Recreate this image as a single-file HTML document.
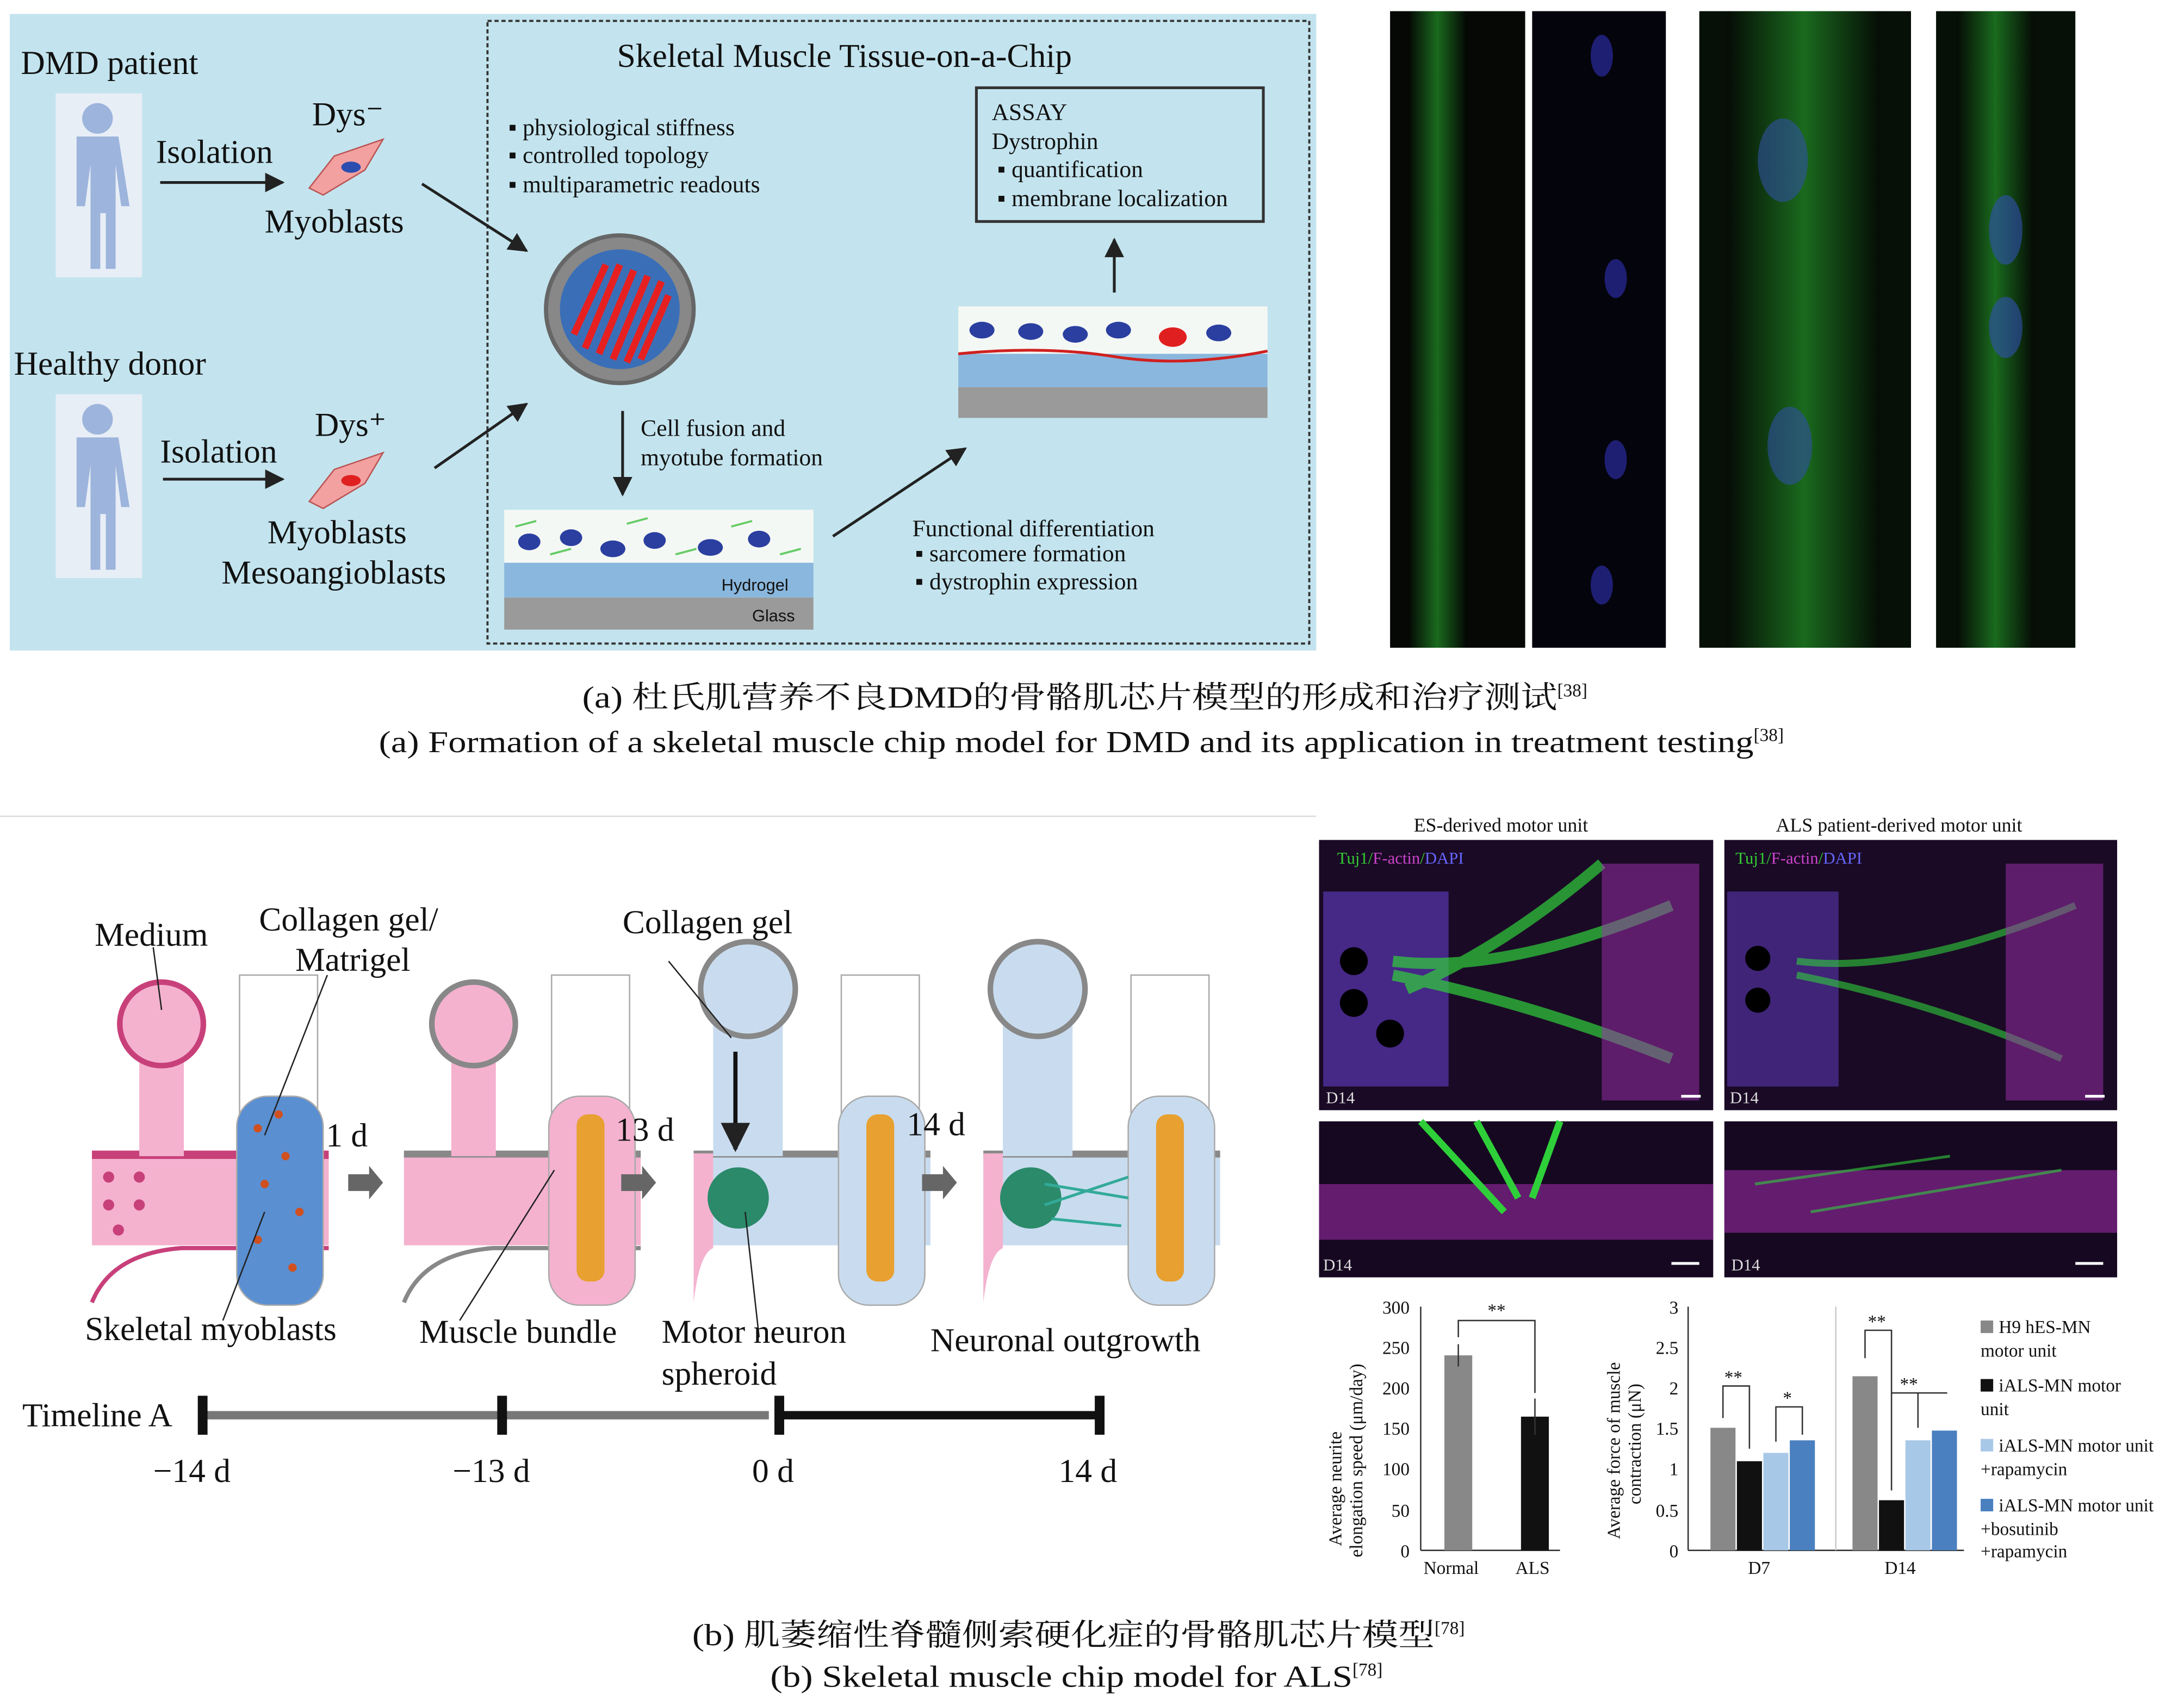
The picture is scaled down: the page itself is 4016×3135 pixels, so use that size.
<!DOCTYPE html>
<html><head><meta charset="utf-8"><style>
html,body{margin:0;padding:0;background:#fff;}
svg{display:block;}
text{font-family:"Liberation Serif","Noto Serif CJK SC",serif;fill:#111;}
.s{font-family:"Liberation Sans",sans-serif;}
</style></head><body>
<svg width="4016" height="3135" viewBox="0 0 1568 1224" xmlns="http://www.w3.org/2000/svg">
<defs>
<marker id="ah" viewBox="0 0 10 10" refX="9" refY="5" markerWidth="7" markerHeight="7" orient="auto"><path d="M0,0L10,5L0,10z" fill="#222"/></marker>
<linearGradient id="grn" x1="0" x2="1"><stop offset="0" stop-color="#050c05"/><stop offset=".5" stop-color="#1a6a1e"/><stop offset="1" stop-color="#050c05"/></linearGradient>
</defs>
<rect width="1568" height="1224" fill="#fff"/>
<!-- Panel a -->
<rect x="7" y="10" width="938" height="457" fill="#c3e4ee"/>
<rect x="350" y="15" width="590" height="447" fill="none" stroke="#333" stroke-width="1.5" stroke-dasharray="3,2"/>
<text x="15" y="53" font-size="24">DMD patient</text>
<text x="10" y="269" font-size="24">Healthy donor</text>
<text x="443" y="48" font-size="24">Skeletal Muscle Tissue-on-a-Chip</text>
<g fill="#9db4dc">
<rect x="40" y="67" width="62" height="132" fill="#e8eef6"/>
<circle cx="70" cy="85" r="11"/><path d="M55,98h30l8,50h-6l-4,-30v75h-7v-40h-4v40h-7v-75l-4,30h-6z"/>
<rect x="40" y="283" width="62" height="132" fill="#e8eef6"/>
<circle cx="70" cy="301" r="11"/><path d="M55,314h30l8,50h-6l-4,-30v75h-7v-40h-4v40h-7v-75l-4,30h-6z"/>
</g>
<text x="112" y="117" font-size="24">Isolation</text>
<text x="115" y="332" font-size="24">Isolation</text>
<line x1="115" y1="131" x2="203" y2="131" stroke="#222" stroke-width="2" marker-end="url(#ah)"/>
<line x1="117" y1="344" x2="203" y2="344" stroke="#222" stroke-width="2" marker-end="url(#ah)"/>
<text x="224" y="90" font-size="24">Dys⁻</text>
<text x="226" y="313" font-size="24">Dys⁺</text>
<path d="M222,135 L240,112 L275,100 L262,122 L232,140z" fill="#f2a0a0" stroke="#b55" />
<ellipse cx="252" cy="120" rx="7" ry="4" fill="#2b4db0"/>
<path d="M222,360 L240,337 L275,325 L262,347 L232,365z" fill="#f2a0a0" stroke="#b55"/>
<ellipse cx="252" cy="345" rx="7" ry="4" fill="#e02020"/>
<text x="190" y="167" font-size="24">Myoblasts</text>
<text x="192" y="390" font-size="24">Myoblasts</text>
<text x="159" y="419" font-size="24">Mesoangioblasts</text>
<line x1="303" y1="132" x2="378" y2="180" stroke="#222" stroke-width="2" marker-end="url(#ah)"/>
<line x1="312" y1="336" x2="378" y2="290" stroke="#222" stroke-width="2" marker-end="url(#ah)"/>
<g font-size="17"><text x="365" y="97">▪ physiological stiffness</text><text x="365" y="117">▪ controlled topology</text><text x="365" y="138">▪ multiparametric readouts</text></g>
<circle cx="445" cy="222" r="53" fill="#888" stroke="#666" stroke-width="3"/>
<circle cx="445" cy="222" r="43" fill="#3a6fb8"/>
<g stroke="#e62020" stroke-width="5">
<line x1="420" y1="250" x2="445" y2="190"/><line x1="430" y1="254" x2="455" y2="194"/><line x1="440" y1="258" x2="465" y2="198"/><line x1="450" y1="260" x2="475" y2="202"/><line x1="460" y1="258" x2="480" y2="212"/><line x1="412" y1="240" x2="435" y2="190"/>
</g>
<line x1="447" y1="295" x2="447" y2="355" stroke="#222" stroke-width="2" marker-end="url(#ah)"/>
<text x="460" y="313" font-size="17">Cell fusion and</text><text x="460" y="334" font-size="17">myotube formation</text>
<rect x="362" y="366" width="222" height="38" fill="#f4f8f4"/>
<rect x="362" y="404" width="222" height="25" fill="#8ab7dd"/>
<rect x="362" y="429" width="222" height="23" fill="#9a9a9a"/>
<g stroke="#6c6" stroke-width="1.5"><line x1="370" y1="378" x2="385" y2="374"/><line x1="395" y1="398" x2="410" y2="394"/><line x1="450" y1="376" x2="465" y2="372"/><line x1="485" y1="398" x2="500" y2="394"/><line x1="525" y1="378" x2="540" y2="374"/><line x1="560" y1="398" x2="575" y2="394"/></g>
<g fill="#2b3fa0"><ellipse cx="380" cy="389" rx="8" ry="6"/><ellipse cx="410" cy="386" rx="8" ry="6"/><ellipse cx="440" cy="394" rx="9" ry="6"/><ellipse cx="470" cy="388" rx="8" ry="6"/><ellipse cx="510" cy="393" rx="9" ry="6"/><ellipse cx="545" cy="387" rx="8" ry="6"/></g>
<text x="518" y="424" font-size="12" class="s" fill="#333">Hydrogel</text><text x="540" y="446" font-size="12" class="s" fill="#333">Glass</text>
<line x1="598" y1="385" x2="693" y2="322" stroke="#222" stroke-width="2" marker-end="url(#ah)"/>
<rect x="688" y="220" width="222" height="34" fill="#f4f8f4"/>
<rect x="688" y="254" width="222" height="24" fill="#8ab7dd"/>
<rect x="688" y="278" width="222" height="22" fill="#9a9a9a"/>
<path d="M688,254 Q750,248 800,256 T910,252" stroke="#d02020" stroke-width="2" fill="none"/>
<g fill="#2b3fa0"><ellipse cx="705" cy="237" rx="9" ry="6"/><ellipse cx="740" cy="238" rx="9" ry="6"/><ellipse cx="772" cy="240" rx="9" ry="6"/><ellipse cx="803" cy="237" rx="9" ry="6"/><ellipse cx="875" cy="239" rx="9" ry="6"/></g>
<ellipse cx="842" cy="242" rx="10" ry="7" fill="#e02020"/>
<line x1="800" y1="210" x2="800" y2="172" stroke="#222" stroke-width="2" marker-end="url(#ah)"/>
<rect x="701" y="63" width="206" height="96" fill="none" stroke="#333" stroke-width="2"/>
<g font-size="17"><text x="712" y="86">ASSAY</text><text x="712" y="107">Dystrophin</text><text x="716" y="127">▪ quantification</text><text x="716" y="148">▪ membrane localization</text></g>
<g font-size="17"><text x="655" y="385">Functional differentiation</text><text x="657" y="403">▪ sarcomere formation</text><text x="657" y="423">▪ dystrophin expression</text></g>
<!-- micrographs top -->
<rect x="998" y="8" width="97" height="457" fill="#050805"/>
<rect x="1012" y="8" width="40" height="457" fill="url(#grn)"/>
<rect x="1100" y="8" width="96" height="457" fill="#04040c"/>
<g fill="#2a2aa0" opacity=".7"><ellipse cx="1150" cy="40" rx="8" ry="15"/><ellipse cx="1160" cy="200" rx="8" ry="14"/><ellipse cx="1160" cy="330" rx="8" ry="14"/><ellipse cx="1150" cy="420" rx="8" ry="14"/></g>
<rect x="1220" y="8" width="152" height="457" fill="#061006"/>
<rect x="1240" y="8" width="110" height="457" fill="url(#grn)"/>
<g fill="#3050a0" opacity=".6"><ellipse cx="1280" cy="115" rx="18" ry="30"/><ellipse cx="1285" cy="320" rx="16" ry="28"/></g>
<rect x="1390" y="8" width="100" height="457" fill="#061006"/>
<rect x="1405" y="8" width="55" height="457" fill="url(#grn)"/>
<g fill="#3050b0" opacity=".6"><ellipse cx="1440" cy="165" rx="12" ry="25"/><ellipse cx="1440" cy="235" rx="12" ry="22"/></g>
<text x="418" y="508" font-size="22" textLength="700" lengthAdjust="spacingAndGlyphs">(a) 杜氏肌营养不良DMD的骨骼肌芯片模型的形成和治疗测试</text><text x="1118" y="500" font-size="13">[38]</text>
<text x="272" y="540" font-size="22" textLength="987" lengthAdjust="spacingAndGlyphs">(a) Formation of a skeletal muscle chip model for DMD and its application in treatment testing</text><text x="1259" y="532" font-size="13">[38]</text>
<!-- Panel b -->
<line x1="0" y1="586" x2="945" y2="586" stroke="#ddd" stroke-width="1"/>
<g id="u">
<rect x="66" y="828" width="170" height="66" fill="#f4b2cf"/>
<rect x="66" y="826" width="170" height="6" fill="#c8407a"/>
<rect x="100" y="735" width="32" height="95" fill="#f4b2cf"/>
<circle cx="116" cy="735" r="30" fill="#f4b2cf" stroke="#c8407a" stroke-width="4"/>
<path d="M66,935 Q80,900 130,896 L236,896" stroke="#c8407a" stroke-width="3" fill="none"/>
<rect x="172" y="700" width="56" height="100" fill="#fff" stroke="#aaa"/>
<rect x="170" y="787" width="62" height="150" rx="22" fill="#5a8fd2" stroke="#aaa"/>
<g fill="#c8407a"><circle cx="78" cy="845" r="4"/><circle cx="100" cy="845" r="4"/><circle cx="78" cy="865" r="4"/><circle cx="100" cy="865" r="4"/><circle cx="85" cy="883" r="4"/></g>
</g>
<g fill="#d05020"><circle cx="185" cy="810" r="3"/><circle cx="205" cy="830" r="3"/><circle cx="190" cy="850" r="3"/><circle cx="215" cy="870" r="3"/><circle cx="185" cy="890" r="3"/><circle cx="210" cy="910" r="3"/><circle cx="200" cy="800" r="3"/></g>
<line x1="116" y1="725" x2="110" y2="680" stroke="#222"/><line x1="190" y1="815" x2="235" y2="700" stroke="#222"/><line x1="160" y1="948" x2="190" y2="870" stroke="#222"/>
<g transform="translate(224,0)">
<rect x="66" y="828" width="170" height="66" fill="#f4b2cf"/><rect x="66" y="826" width="170" height="5" fill="#888"/>
<rect x="100" y="735" width="32" height="95" fill="#f4b2cf"/><circle cx="116" cy="735" r="30" fill="#f4b2cf" stroke="#888" stroke-width="4"/>
<path d="M66,935 Q80,900 130,896 L236,896" stroke="#888" stroke-width="3" fill="none"/>
<rect x="172" y="700" width="56" height="100" fill="#fff" stroke="#aaa"/>
<rect x="170" y="787" width="62" height="150" rx="22" fill="#f4b2cf" stroke="#aaa"/>
<rect x="190" y="800" width="20" height="120" rx="8" fill="#e8a030"/>
</g>
<line x1="330" y1="948" x2="398" y2="840" stroke="#222"/>
<g transform="translate(432,0)">
<rect x="66" y="828" width="170" height="66" fill="#c9dcef"/><rect x="66" y="826" width="170" height="5" fill="#888"/>
<path d="M66,935 Q70,900 80,896 L80,828 L66,828z" fill="#f4b2cf"/>
<rect x="80" y="715" width="50" height="115" fill="#c9dcef"/><circle cx="105" cy="710" r="34" fill="#c9dcef" stroke="#888" stroke-width="4"/>
<rect x="172" y="700" width="56" height="100" fill="#fff" stroke="#aaa"/>
<rect x="170" y="787" width="62" height="150" rx="22" fill="#c9dcef" stroke="#aaa"/>
<rect x="190" y="800" width="20" height="120" rx="8" fill="#e8a030"/>
<circle cx="98" cy="860" r="22" fill="#2a8a6a"/>
</g>
<line x1="528" y1="755" x2="528" y2="825" stroke="#111" stroke-width="3" marker-end="url(#ah)"/>
<line x1="480" y1="690" x2="525" y2="745" stroke="#222"/><line x1="545" y1="960" x2="535" y2="870" stroke="#222"/>
<g transform="translate(640,0)">
<rect x="66" y="828" width="170" height="66" fill="#c9dcef"/><rect x="66" y="826" width="170" height="5" fill="#888"/>
<path d="M66,935 Q70,900 80,896 L80,828 L66,828z" fill="#f4b2cf"/>
<rect x="80" y="715" width="50" height="115" fill="#c9dcef"/><circle cx="105" cy="710" r="34" fill="#c9dcef" stroke="#888" stroke-width="4"/>
<rect x="172" y="700" width="56" height="100" fill="#fff" stroke="#aaa"/>
<rect x="170" y="787" width="62" height="150" rx="22" fill="#c9dcef" stroke="#aaa"/>
<rect x="190" y="800" width="20" height="120" rx="8" fill="#e8a030"/>
<circle cx="100" cy="860" r="22" fill="#2a8a6a"/>
<path d="M110,850 L170,860 M110,865 L170,845 M115,875 L165,880" stroke="#3a9" stroke-width="2"/>
</g>
<g fill="#666"><path d="M250,843h15v-6l10,12l-10,12v-6h-15z"/><path d="M446,843h15v-6l10,12l-10,12v-6h-15z"/><path d="M662,843h15v-6l10,12l-10,12v-6h-15z"/></g>
<g font-size="24">
<text x="68" y="679">Medium</text><text x="186" y="668">Collagen gel/</text><text x="212" y="697">Matrigel</text>
<text x="447" y="670">Collagen gel</text>
<text x="234" y="823">1 d</text><text x="442" y="819">13 d</text><text x="651" y="815">14 d</text>
<text x="61" y="962">Skeletal myoblasts</text><text x="301" y="964">Muscle bundle</text><text x="475" y="964">Motor neuron</text><text x="475" y="994">spheroid</text><text x="668" y="970">Neuronal outgrowth</text>
<text x="16" y="1024">Timeline A</text>
<text x="110" y="1064">−14 d</text><text x="325" y="1064">−13 d</text><text x="540" y="1064">0 d</text><text x="760" y="1064">14 d</text>
</g>
<line x1="146" y1="1016" x2="552" y2="1016" stroke="#777" stroke-width="6"/>
<line x1="560" y1="1016" x2="788" y2="1016" stroke="#111" stroke-width="6"/>
<g fill="#111"><rect x="142" y="1002" width="7" height="28"/><rect x="357" y="1002" width="7" height="28"/><rect x="556" y="1002" width="7" height="28"/><rect x="786" y="1002" width="7" height="28"/></g>
<!-- fluorescence -->
<g font-size="14"><text x="1015" y="597">ES-derived motor unit</text><text x="1275" y="597">ALS patient-derived motor unit</text></g>
<rect x="947" y="603" width="283" height="194" fill="#1a0a25"/>
<rect x="1238" y="603" width="282" height="194" fill="#1a0a25"/>
<rect x="950" y="640" width="90" height="140" fill="#5a35b0" opacity=".7"/>
<rect x="1240" y="640" width="80" height="140" fill="#5a35b0" opacity=".6"/>
<path d="M1000,690 Q1080,700 1200,650 M1000,700 Q1100,720 1200,760 M1010,710 Q1080,680 1150,620" stroke="#2fcf3a" stroke-width="8" fill="none" opacity=".7"/>
<path d="M1290,690 Q1370,700 1490,650 M1290,700 Q1390,720 1480,760" stroke="#2fcf3a" stroke-width="5" fill="none" opacity=".6"/>
<rect x="1150" y="620" width="70" height="170" fill="#a030b0" opacity=".5"/>
<rect x="1440" y="620" width="70" height="170" fill="#a030b0" opacity=".5"/>
<g fill="#000"><circle cx="972" cy="690" r="10"/><circle cx="972" cy="720" r="10"/><circle cx="998" cy="742" r="10"/><circle cx="1262" cy="688" r="9"/><circle cx="1262" cy="718" r="9"/></g>
<rect x="947" y="805" width="283" height="112" fill="#150820"/>
<rect x="1238" y="805" width="282" height="112" fill="#150820"/>
<rect x="947" y="850" width="283" height="40" fill="#9a2aa5" opacity=".6"/>
<rect x="1238" y="840" width="282" height="45" fill="#9a2aa5" opacity=".6"/>
<path d="M1020,805 L1080,870 M1060,805 L1090,860 M1120,805 L1100,860" stroke="#2fcf3a" stroke-width="5"/>
<path d="M1260,850 L1400,830 M1300,870 L1480,840" stroke="#2fcf3a" stroke-width="2" opacity=".6"/>
<g font-size="12" class="s">
<text x="952" y="792" style="fill:#ddd">D14</text><text x="1242" y="792" style="fill:#ddd">D14</text><text x="950" y="912" style="fill:#ddd">D14</text><text x="1243" y="912" style="fill:#ddd">D14</text>
<text x="960" y="620" style="fill:#3c3">Tuj1/<tspan style="fill:#c4c">F-actin</tspan>/<tspan style="fill:#66f">DAPI</tspan></text>
<text x="1246" y="620" style="fill:#3c3">Tuj1/<tspan style="fill:#c4c">F-actin</tspan>/<tspan style="fill:#66f">DAPI</tspan></text></g>
<g fill="#fff"><rect x="1207" y="786" width="14" height="2"/><rect x="1497" y="786" width="14" height="2"/><rect x="1200" y="906" width="20" height="2"/><rect x="1490" y="906" width="20" height="2"/></g>
<!-- chart1 -->
<g font-size="13">
<line x1="1020" y1="938" x2="1020" y2="1113" stroke="#333"/><line x1="1020" y1="1113" x2="1120" y2="1113" stroke="#333"/>
<text x="1012" y="943" text-anchor="end">300</text><text x="1012" y="972" text-anchor="end">250</text><text x="1012" y="1001" text-anchor="end">200</text><text x="1012" y="1030" text-anchor="end">150</text><text x="1012" y="1059" text-anchor="end">100</text><text x="1012" y="1089" text-anchor="end">50</text><text x="1012" y="1118" text-anchor="end">0</text>
<rect x="1037" y="973" width="20" height="140" fill="#888"/><rect x="1092" y="1017" width="20" height="96" fill="#111"/>
<line x1="1047" y1="965" x2="1047" y2="981" stroke="#333"/><line x1="1102" y1="1004" x2="1102" y2="1030" stroke="#333"/>
<path d="M1047,960V948H1102V1000" fill="none" stroke="#333"/><text x="1068" y="945">**</text>
<text x="1022" y="1130">Normal</text><text x="1088" y="1130">ALS</text>
<text transform="translate(963,1110) rotate(-90)">Average neurite</text><text transform="translate(978,1118) rotate(-90)">elongation speed (μm/day)</text>
<line x1="1212" y1="938" x2="1212" y2="1113" stroke="#333"/><line x1="1212" y1="1113" x2="1410" y2="1113" stroke="#333"/>
<line x1="1318" y1="938" x2="1318" y2="1113" stroke="#ccc"/>
<text x="1205" y="943" text-anchor="end">3</text><text x="1205" y="972" text-anchor="end">2.5</text><text x="1205" y="1001" text-anchor="end">2</text><text x="1205" y="1030" text-anchor="end">1.5</text><text x="1205" y="1059" text-anchor="end">1</text><text x="1205" y="1089" text-anchor="end">0.5</text><text x="1205" y="1118" text-anchor="end">0</text>
<rect x="1228" y="1025" width="18" height="88" fill="#888"/><rect x="1247" y="1049" width="18" height="64" fill="#111"/><rect x="1266" y="1043" width="18" height="70" fill="#a8c8e8"/><rect x="1285" y="1034" width="18" height="79" fill="#4a80c0"/>
<rect x="1330" y="988" width="18" height="125" fill="#888"/><rect x="1349" y="1077" width="18" height="36" fill="#111"/><rect x="1368" y="1034" width="18" height="79" fill="#a8c8e8"/><rect x="1387" y="1027" width="18" height="86" fill="#4a80c0"/>
<path d="M1237,1018V995H1256V1040M1275,1035V1010H1294V1030M1339,975V955H1358V1070M1358,1070V1000H1377V1025M1377,1000H1398" fill="none" stroke="#333"/>
<text x="1238" y="993">**</text><text x="1280" y="1008">*</text><text x="1341" y="953">**</text><text x="1364" y="998">**</text>
<text x="1255" y="1130">D7</text><text x="1353" y="1130">D14</text>
<text transform="translate(1163,1105) rotate(-90)">Average force of muscle</text><text transform="translate(1178,1080) rotate(-90)">contraction (μN)</text>
<rect x="1422" y="948" width="9" height="9" fill="#888"/><text x="1435" y="957">H9 hES-MN</text><text x="1422" y="974">motor unit</text>
<rect x="1422" y="990" width="9" height="9" fill="#111"/><text x="1435" y="999">iALS-MN motor</text><text x="1422" y="1016">unit</text>
<rect x="1422" y="1033" width="9" height="9" fill="#a8c8e8"/><text x="1435" y="1042">iALS-MN motor unit</text><text x="1422" y="1059">+rapamycin</text>
<rect x="1422" y="1076" width="9" height="9" fill="#4a80c0"/><text x="1435" y="1085">iALS-MN motor unit</text><text x="1422" y="1102">+bosutinib</text><text x="1422" y="1118">+rapamycin</text>
</g>
<text x="497" y="1181" font-size="22" textLength="533" lengthAdjust="spacingAndGlyphs">(b) 肌萎缩性脊髓侧索硬化症的骨骼肌芯片模型</text><text x="1030" y="1173" font-size="13">[78]</text>
<text x="553" y="1211" font-size="22" textLength="418" lengthAdjust="spacingAndGlyphs">(b) Skeletal muscle chip model for ALS</text><text x="971" y="1203" font-size="13">[78]</text>
</svg>
</body></html>
